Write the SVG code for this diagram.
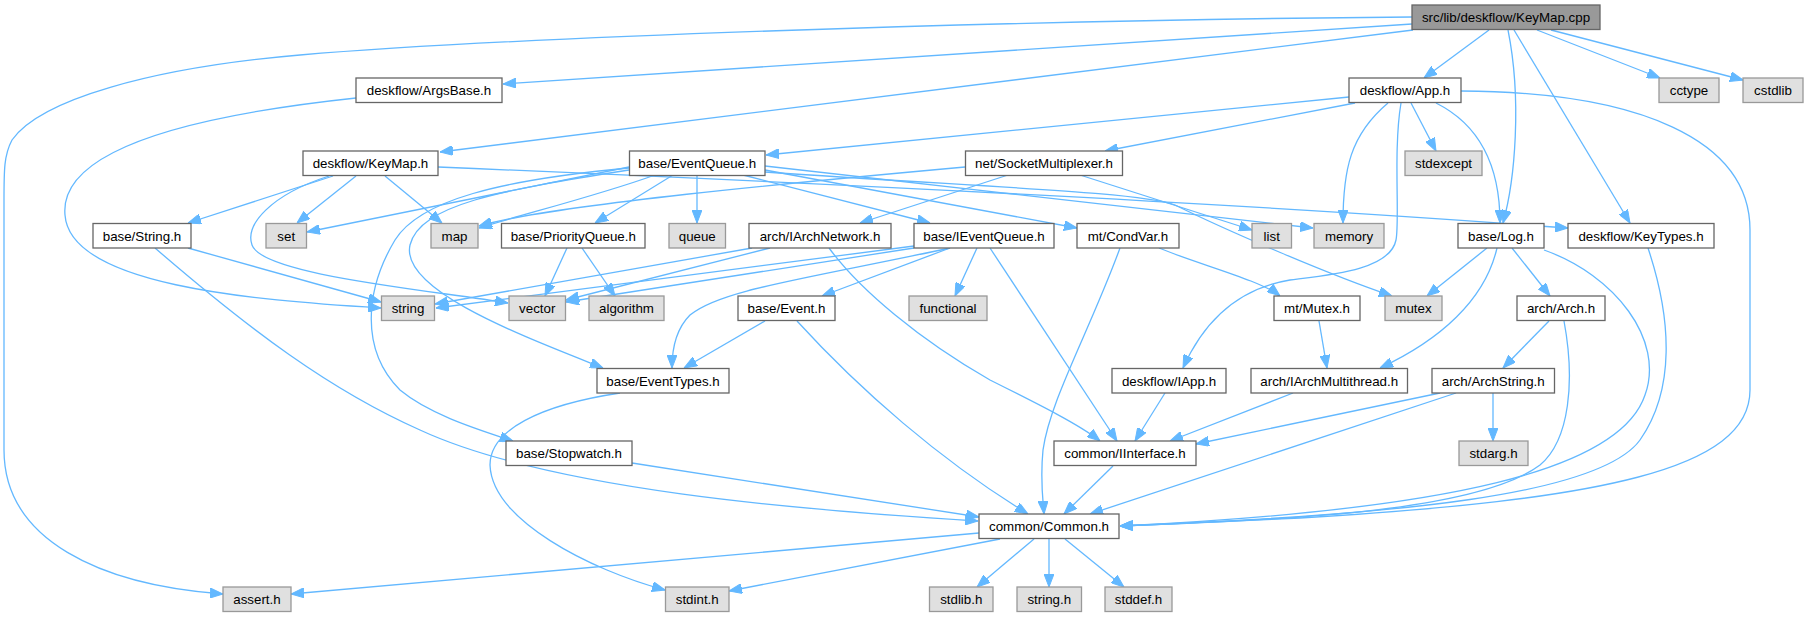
<svg xmlns="http://www.w3.org/2000/svg" width="1808" height="617" viewBox="0 0 1808 617">
<defs>
<style>
.n rect{fill:#ffffff;stroke:#666666;stroke-width:1.3}
.g rect{fill:#e0e0e0;stroke:#999999;stroke-width:1.3}
.r rect{fill:#999999;stroke:#666666;stroke-width:1.3}
text{font-family:"Liberation Sans",Arial,Helvetica,sans-serif;font-size:13.33px;text-anchor:middle;fill:#000000}
#edges path{fill:none;stroke:#63b8ff;stroke-width:1.3;marker-end:url(#a)}
</style>
<marker id="a" viewBox="0 0 13 10" refX="13" refY="5" markerWidth="13" markerHeight="10" markerUnits="userSpaceOnUse" orient="auto">
<path d="M0,0 L13,5 L0,10 z" fill="#63b8ff" stroke="#63b8ff"/>
</marker>
</defs>
<rect width="1808" height="617" fill="#ffffff"/>
<g id="edges">
<path d="M1412,17 C1000,20 500,38 300,55 C150,68 40,100 12,140 C4,155 4,170 4,200 L4,450 C4,540 100,585 223,594"/>
<path d="M1412,24 L503,84"/>
<path d="M1413,30 L440,152"/>
<path d="M1489,30 L1424,78"/>
<path d="M1508,30 C1522,100 1515,180 1503,223"/>
<path d="M1514,30 L1630,223"/>
<path d="M1537,30 L1660,78"/>
<path d="M1551,30 L1743,80"/>
<path d="M356,98 C150,120 60,160 65,215 C70,285 250,300 381,308"/>
<path d="M333,176 L188,223"/>
<path d="M356,176 L297,223"/>
<path d="M385,176 L442,223"/>
<path d="M329,176 C270,195 245,225 252,245 C262,275 430,290 508,303"/>
<path d="M438,167 C700,178 1200,200 1568,228"/>
<path d="M1349,97 L766,155"/>
<path d="M1355,103 L1105,151"/>
<path d="M1388,103 C1350,135 1343,170 1343,223"/>
<path d="M1401,103 C1393,150 1400,220 1396,240 C1390,270 1330,275 1290,280 C1230,290 1200,330 1183,368"/>
<path d="M1411,103 L1436,151"/>
<path d="M1436,103 C1480,125 1500,165 1500,223"/>
<path d="M1461,91 C1640,92 1750,140 1750,230 L1750,390 C1750,470 1600,500 1300,518 C1200,523 1150,525 1120,526"/>
<path d="M629,167 L307,232"/>
<path d="M655,175 C600,195 520,215 479,228"/>
<path d="M965,167 C800,182 550,205 479,226"/>
<path d="M673,175 L595,223"/>
<path d="M697,175 L697,223"/>
<path d="M743,175 L930,223"/>
<path d="M765,170 L1077,228"/>
<path d="M765,166 L1313,228"/>
<path d="M765,172 C1000,188 1140,192 1175,205 C1230,232 1330,275 1392,296"/>
<path d="M629,170 C500,190 420,205 410,245 C400,290 520,335 603,368"/>
<path d="M629,168 C500,180 420,200 395,240 C365,290 360,350 400,390 C430,415 480,430 513,441"/>
<path d="M1080,175 L1252,230"/>
<path d="M1008,175 L860,223"/>
<path d="M752,248 L435,304"/>
<path d="M770,248 L566,300"/>
<path d="M829,248 C860,290 920,340 990,380 C1040,405 1080,425 1100,441"/>
<path d="M914,246 L436,308"/>
<path d="M914,248 L566,302"/>
<path d="M950,248 C800,280 720,290 690,315 C675,330 672,350 672,368"/>
<path d="M950,248 L822,296"/>
<path d="M977,248 L955,296"/>
<path d="M990,248 L1117,441"/>
<path d="M1120,248 C1090,330 1050,400 1043,450 C1040,480 1043,500 1044,514"/>
<path d="M1159,248 C1200,265 1260,280 1280,296"/>
<path d="M1487,248 L1427,296"/>
<path d="M1497,248 C1485,300 1440,340 1380,368"/>
<path d="M1512,248 L1550,296"/>
<path d="M1544,250 C1615,275 1665,340 1645,395 C1620,470 1450,510 1120,526"/>
<path d="M1648,248 C1672,320 1675,390 1640,440 C1600,495 1400,515 1120,526"/>
<path d="M1549,321 L1503,368"/>
<path d="M1564,321 C1575,380 1570,440 1540,465 C1480,510 1300,520 1120,526"/>
<path d="M1493,393 L1493,441"/>
<path d="M1440,393 L1196,444"/>
<path d="M1456,393 L1090,514"/>
<path d="M1319,321 L1327,368"/>
<path d="M1293,393 L1170,441"/>
<path d="M1165,393 L1135,441"/>
<path d="M1113,466 L1064,514"/>
<path d="M765,321 L684,368"/>
<path d="M797,321 C860,390 940,460 1028,514"/>
<path d="M567,248 L545,296"/>
<path d="M582,248 L615,296"/>
<path d="M155,248 C250,330 330,390 420,430 C550,490 800,510 978,521"/>
<path d="M188,248 L381,302"/>
<path d="M632,463 L979,517"/>
<path d="M620,393 C540,405 490,430 490,465 C492,520 590,570 665,590"/>
<path d="M979,533 L291,594"/>
<path d="M1000,539 L729,591"/>
<path d="M1034,539 L977,587"/>
<path d="M1049,539 L1049,587"/>
<path d="M1065,539 L1124,587"/>
</g>
<g id="n1" class="r"><rect x="1412" y="5" width="188" height="24.5"/><text x="1506" y="22">src/lib/deskflow/KeyMap.cpp</text></g>
<g id="n2" class="n"><rect x="356" y="78" width="146" height="24.5"/><text x="429" y="95">deskflow/ArgsBase.h</text></g>
<g id="n3" class="n"><rect x="1349" y="78" width="112" height="24.5"/><text x="1405" y="95">deskflow/App.h</text></g>
<g id="n4" class="g"><rect x="1659" y="78" width="60" height="24.5"/><text x="1689" y="95">cctype</text></g>
<g id="n5" class="g"><rect x="1743" y="78" width="60" height="24.5"/><text x="1773" y="95">cstdlib</text></g>
<g id="n6" class="n"><rect x="303" y="151" width="135" height="24.5"/><text x="370.5" y="168">deskflow/KeyMap.h</text></g>
<g id="n7" class="n"><rect x="629.5" y="151" width="135.5" height="24.5"/><text x="697.25" y="168">base/EventQueue.h</text></g>
<g id="n8" class="n"><rect x="965.5" y="151" width="157" height="24.5"/><text x="1044" y="168">net/SocketMultiplexer.h</text></g>
<g id="n9" class="g"><rect x="1405" y="151" width="77" height="24.5"/><text x="1443.5" y="168">stdexcept</text></g>
<g id="n10" class="n"><rect x="93" y="223.5" width="98" height="24.5"/><text x="142" y="240.5">base/String.h</text></g>
<g id="n11" class="g"><rect x="266" y="223.5" width="40.5" height="24.5"/><text x="286.25" y="240.5">set</text></g>
<g id="n12" class="g"><rect x="431" y="223.5" width="47" height="24.5"/><text x="454.5" y="240.5">map</text></g>
<g id="n13" class="n"><rect x="501.5" y="223.5" width="143.5" height="24.5"/><text x="573.25" y="240.5">base/PriorityQueue.h</text></g>
<g id="n14" class="g"><rect x="669" y="223.5" width="56.5" height="24.5"/><text x="697.25" y="240.5">queue</text></g>
<g id="n15" class="n"><rect x="749" y="223.5" width="142" height="24.5"/><text x="820" y="240.5">arch/IArchNetwork.h</text></g>
<g id="n16" class="n"><rect x="914" y="223.5" width="140" height="24.5"/><text x="984" y="240.5">base/IEventQueue.h</text></g>
<g id="n17" class="n"><rect x="1077" y="223.5" width="102" height="24.5"/><text x="1128" y="240.5">mt/CondVar.h</text></g>
<g id="n18" class="g"><rect x="1252" y="223.5" width="39.5" height="24.5"/><text x="1271.75" y="240.5">list</text></g>
<g id="n19" class="g"><rect x="1314" y="223.5" width="70" height="24.5"/><text x="1349" y="240.5">memory</text></g>
<g id="n20" class="n"><rect x="1458" y="223.5" width="86" height="24.5"/><text x="1501" y="240.5">base/Log.h</text></g>
<g id="n21" class="n"><rect x="1568" y="223.5" width="146" height="24.5"/><text x="1641" y="240.5">deskflow/KeyTypes.h</text></g>
<g id="n22" class="g"><rect x="381.5" y="296" width="53" height="24.5"/><text x="408" y="313">string</text></g>
<g id="n23" class="g"><rect x="509" y="296" width="56.5" height="24.5"/><text x="537.25" y="313">vector</text></g>
<g id="n24" class="g"><rect x="589" y="296" width="75" height="24.5"/><text x="626.5" y="313">algorithm</text></g>
<g id="n25" class="n"><rect x="738" y="296" width="97" height="24.5"/><text x="786.5" y="313">base/Event.h</text></g>
<g id="n26" class="g"><rect x="909" y="296" width="78" height="24.5"/><text x="948" y="313">functional</text></g>
<g id="n27" class="n"><rect x="1274" y="296" width="86" height="24.5"/><text x="1317" y="313">mt/Mutex.h</text></g>
<g id="n28" class="g"><rect x="1385" y="296" width="57" height="24.5"/><text x="1413.5" y="313">mutex</text></g>
<g id="n29" class="n"><rect x="1517" y="296" width="88" height="24.5"/><text x="1561" y="313">arch/Arch.h</text></g>
<g id="n30" class="n"><rect x="597" y="368.5" width="132" height="24.5"/><text x="663" y="385.5">base/EventTypes.h</text></g>
<g id="n31" class="n"><rect x="1112" y="368.5" width="114" height="24.5"/><text x="1169" y="385.5">deskflow/IApp.h</text></g>
<g id="n32" class="n"><rect x="1251" y="368.5" width="156.5" height="24.5"/><text x="1329.25" y="385.5">arch/IArchMultithread.h</text></g>
<g id="n33" class="n"><rect x="1432" y="368.5" width="122.5" height="24.5"/><text x="1493.25" y="385.5">arch/ArchString.h</text></g>
<g id="n34" class="n"><rect x="506" y="441" width="126" height="24.5"/><text x="569" y="458">base/Stopwatch.h</text></g>
<g id="n35" class="n"><rect x="1054" y="441" width="142" height="24.5"/><text x="1125" y="458">common/IInterface.h</text></g>
<g id="n36" class="g"><rect x="1459" y="441" width="69" height="24.5"/><text x="1493.5" y="458">stdarg.h</text></g>
<g id="n37" class="n"><rect x="979" y="514" width="140" height="24.5"/><text x="1049" y="531">common/Common.h</text></g>
<g id="n38" class="g"><rect x="223" y="587" width="68" height="24.5"/><text x="257" y="604">assert.h</text></g>
<g id="n39" class="g"><rect x="665.5" y="587" width="63.5" height="24.5"/><text x="697.25" y="604">stdint.h</text></g>
<g id="n40" class="g"><rect x="929.5" y="587" width="63.5" height="24.5"/><text x="961.25" y="604">stdlib.h</text></g>
<g id="n41" class="g"><rect x="1017" y="587" width="64.5" height="24.5"/><text x="1049.25" y="604">string.h</text></g>
<g id="n42" class="g"><rect x="1105" y="587" width="67" height="24.5"/><text x="1138.5" y="604">stddef.h</text></g>
</svg>
